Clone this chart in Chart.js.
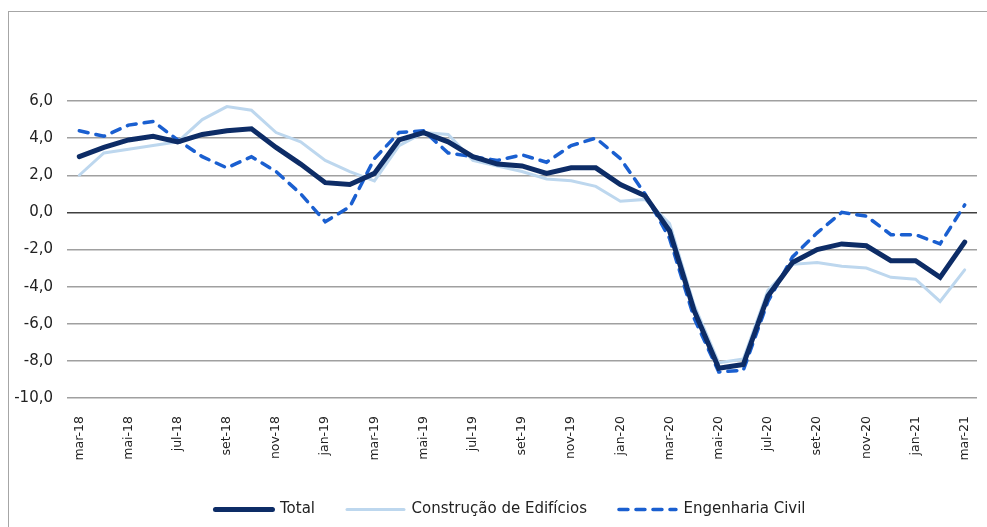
<!DOCTYPE html>
<html>
<head>
<meta charset="utf-8">
<script src="https://cdn.jsdelivr.net/npm/chart.js@4"></script>
<style>
  html, body { margin: 0; padding: 0; background: #fff; }
  #wrap { position: relative; width: 987px; height: 527px; overflow: hidden; }
  #frame { position: absolute; left: 8px; top: 11px; width: 1000px; height: 600px;
           border-left: 1.5px solid #a6a6a6; border-top: 1.5px solid #a6a6a6; }
  canvas { position: absolute; left: 0; top: 0; }
</style>
</head>
<body>
<div id="wrap">
  <div id="frame"></div>
  <canvas id="myChart" width="987" height="527"></canvas>
</div>
<script>
const months = [
  "mar-18", "abr-18", "mai-18", "jun-18", "jul-18", "ago-18", "set-18", "out-18", "nov-18", "dez-18",
  "jan-19", "fev-19", "mar-19", "abr-19", "mai-19", "jun-19", "jul-19", "ago-19", "set-19", "out-19",
  "nov-19", "dez-19", "jan-20", "fev-20", "mar-20", "abr-20", "mai-20", "jun-20", "jul-20", "ago-20",
  "set-20", "out-20", "nov-20", "dez-20", "jan-21", "fev-21", "mar-21"
];

const total = [
  3.0, 3.5, 3.9, 4.1, 3.8, 4.2, 4.4, 4.5, 3.5, 2.6,
  1.6, 1.5, 2.1, 3.9, 4.3, 3.8, 3.0, 2.6, 2.5, 2.1,
  2.4, 2.4, 1.5, 0.9, -1.0, -5.3, -8.4, -8.2, -4.5, -2.7,
  -2.0, -1.7, -1.8, -2.6, -2.6, -3.5, -1.6
];

const construcao = [
  2.0, 3.2, 3.4, 3.6, 3.8, 5.0, 5.7, 5.5, 4.3, 3.8,
  2.8, 2.2, 1.7, 3.6, 4.3, 4.2, 2.8, 2.5, 2.2, 1.8,
  1.7, 1.4, 0.6, 0.7, -0.6, -5.0, -8.1, -7.9, -4.2, -2.8,
  -2.7, -2.9, -3.0, -3.5, -3.6, -4.8, -3.1
];

const engenharia = [
  4.4, 4.1, 4.7, 4.9, 3.9, 3.0, 2.4, 3.0, 2.2, 1.0,
  -0.5, 0.3, 2.9, 4.3, 4.4, 3.2, 3.0, 2.8, 3.1, 2.7,
  3.6, 4.0, 2.9, 1.0, -1.4, -5.7, -8.6, -8.5, -4.8, -2.4,
  -1.1, 0.0, -0.2, -1.2, -1.2, -1.7, 0.4
];

const yTicks = [-10, -8, -6, -4, -2, 0, 2, 4, 6];

const font = "'DejaVu Sans', Verdana, sans-serif";

// the legend in the original sits a little right of centre
const legendShift = {
  id: "legendShift",
  afterLayout: function (chart) {
    chart.legend.left += 22;
    chart.legend.right += 22;
  }
};

new Chart("myChart", {
  type: "line",
  data: {
    labels: months,
    datasets: [
      {
        label: "Total",
        data: total,
        borderColor: "#0d2c66",
        backgroundColor: "#0d2c66",
        borderWidth: 5,
        borderCapStyle: "round",
        pointRadius: 0,
        tension: 0,
        order: 1
      },
      {
        label: "Construção de Edifícios",
        data: construcao,
        borderColor: "#bdd7ee",
        backgroundColor: "#bdd7ee",
        borderWidth: 3,
        borderCapStyle: "round",
        pointRadius: 0,
        tension: 0,
        order: 3
      },
      {
        label: "Engenharia Civil",
        data: engenharia,
        borderColor: "#1a5fd0",
        backgroundColor: "#1a5fd0",
        borderWidth: 3.5,
        borderDash: [9, 8],
        borderCapStyle: "round",
        pointRadius: 0,
        tension: 0,
        order: 2
      }
    ]
  },
  plugins: [legendShift],
  options: {
    responsive: false,
    animation: false,
    layout: { padding: { left: 0, right: 10, top: 101, bottom: 0 } },
    plugins: {
      tooltip: { enabled: false },
      legend: {
        position: "bottom",
        labels: {
          usePointStyle: true,
          pointStyle: "line",
          pointStyleWidth: 57,
          padding: 32,
          color: "#222",
          font: { family: font, size: 15 },
          sort: (a, b) => a.datasetIndex - b.datasetIndex,
          generateLabels: function (chart) {
            const items = Chart.defaults.plugins.legend.labels.generateLabels(chart);
            items.forEach(function (item) {
              const ds = chart.data.datasets[item.datasetIndex];
              item.lineDash = ds.borderDash || [];
              item.lineWidth = ds.borderWidth;
              item.strokeStyle = ds.borderColor;
              item.lineCap = "round";
            });
            return items;
          }
        }
      }
    },
    scales: {
      x: {
        offset: true,
        grid: { display: false },
        border: { display: false },
        afterFit: function (scale) {
          scale.height = 72;
          scale.paddingLeft = 0;
          scale.paddingRight = 0;
        },
        ticks: {
          autoSkip: false,
          maxRotation: 90,
          minRotation: 90,
          padding: 10,
          color: "#222",
          font: { family: font, size: 12.5 },
          callback: function (val, i) { return i % 2 === 0 ? months[i] : ""; }
        }
      },
      y: {
        min: -10,
        max: 6,
        afterFit: function (scale) { scale.width = 67; },
        afterBuildTicks: function (scale) { scale.ticks = yTicks.map(v => ({ value: v })); },
        border: { display: false },
        grid: {
          drawTicks: false,
          lineWidth: 1.5,
          color: function (ctx) { return ctx.tick && ctx.tick.value === 0 ? "#404040" : "#a0a0a0"; }
        },
        ticks: {
          padding: 14,
          color: "#222",
          font: { family: font, size: 15 },
          callback: function (v) { return v.toFixed(1).replace(".", ","); }
        }
      }
    }
  }
});
</script>
</body>
</html>
